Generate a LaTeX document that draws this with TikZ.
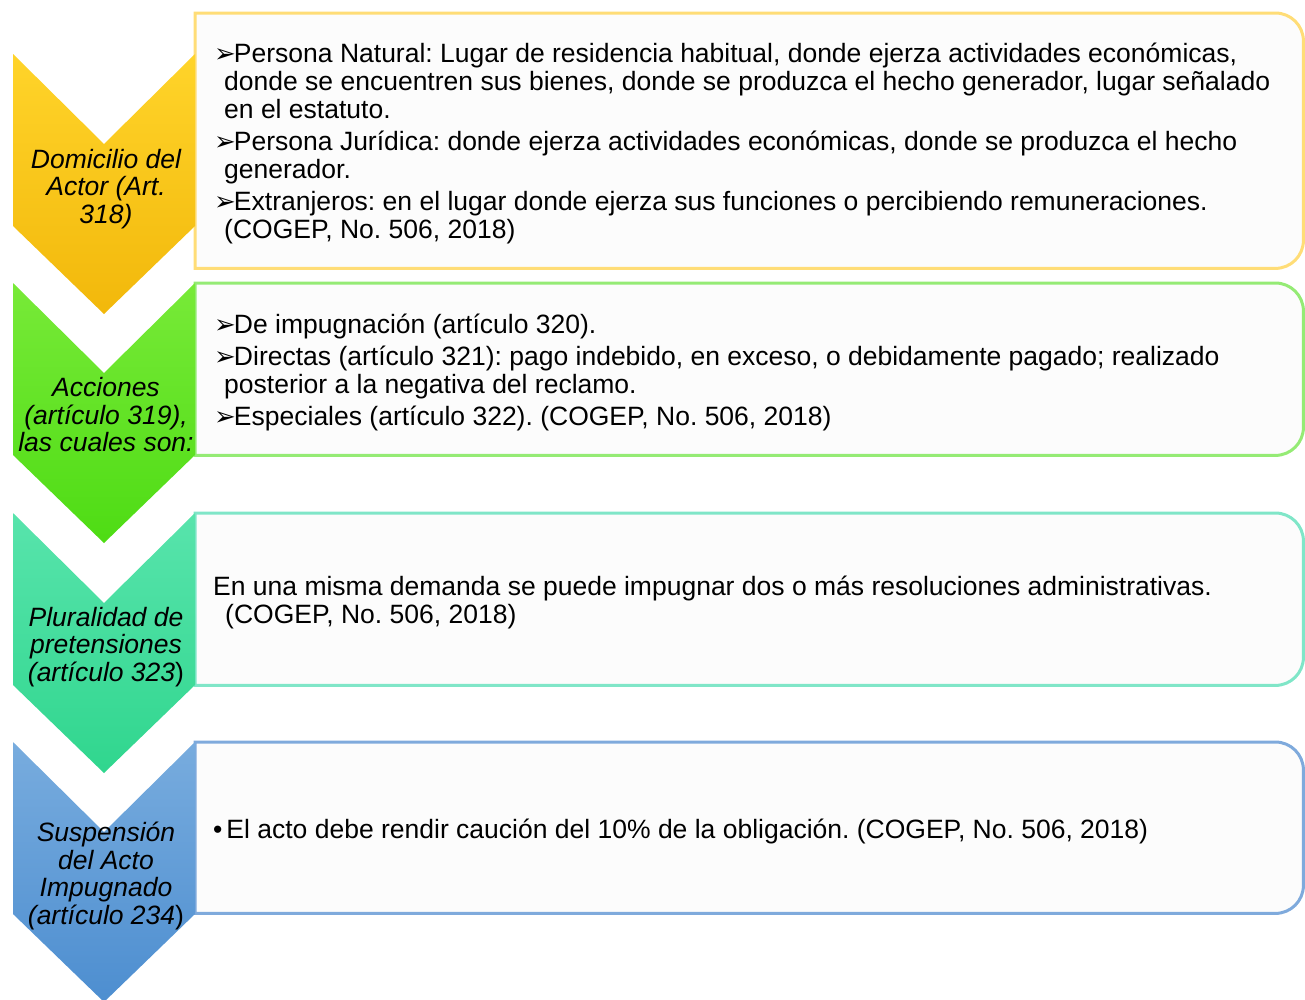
\documentclass[tikz,border=0pt]{standalone}
\usepackage{fontspec}
\setmainfont{Liberation Sans}
\newfontfamily\dejavu{DejaVu Sans}
\newcommand{\arr}{{\dejavu\fontsize{26}{20}\selectfont ➢}\hspace{-2pt}}
\newcommand{\ind}{\hspace*{10pt}}
\definecolor{ytop}{HTML}{FFD42A}
\definecolor{ybot}{HTML}{F2B80B}
\definecolor{gtop}{HTML}{78EA38}
\definecolor{gbot}{HTML}{4EDC14}
\definecolor{ttop}{HTML}{58E4AC}
\definecolor{tbot}{HTML}{30D68E}
\definecolor{btop}{HTML}{78ACDE}
\definecolor{bbot}{HTML}{4D8ED0}
\definecolor{yline}{HTML}{FFDD77}
\definecolor{gline}{HTML}{95EB75}
\definecolor{tline}{HTML}{80E6C8}
\definecolor{bline}{HTML}{7FAADC}
\definecolor{boxfill}{HTML}{FCFCFC}
\newcommand{\boxborder}[2]{%
  \draw[#2, line width=3pt, fill=boxfill] (#1.south west) -- (#1.north west)
    -- ([xshift=-28pt]#1.north east) arc[start angle=90,end angle=0,radius=28pt]
    -- ([yshift=28pt]#1.south east) arc[start angle=0,end angle=-90,radius=28pt]
    -- cycle;}
\newcommand{\chevron}[3]{%
  \shade[top color=#2, bottom color=#3]
    (13,-#1) -- (104,{-#1-90}) -- (195,-#1) -- (195,{-#1-172})
    -- (104,{-#1-260}) -- (13,{-#1-172}) -- cycle;}
\begin{document}
\frenchspacing
\begin{tikzpicture}[x=1pt,y=1pt,
  boxnode/.style={inner sep=0pt, anchor=north west, minimum width=1108pt},
  lbl/.style={font=\fontsize{26.5}{27.5}\selectfont\itshape\frenchspacing, align=center, inner sep=0pt},
  body/.style={font=\fontsize{26.5}{28}\selectfont\frenchspacing, align=left, anchor=north west, inner sep=0pt}]
\useasboundingbox (0,0) rectangle (1305,-999);
% boxes
\node[boxnode, minimum height=255pt] (b1) at (195,-13) {};
\node[boxnode, minimum height=172pt] (b2) at (195,-283) {};
\node[boxnode, minimum height=172pt] (b3) at (195,-513) {};
\node[boxnode, minimum height=171pt] (b4) at (195,-742) {};
\boxborder{b1}{yline}
\boxborder{b2}{gline}
\boxborder{b3}{tline}
\boxborder{b4}{bline}
% chevrons
\chevron{54}{ytop}{ybot}
\chevron{283}{gtop}{gbot}
\chevron{513}{ttop}{tbot}
\chevron{742}{btop}{bbot}
% labels
\node[lbl] (l1) at (106,-189) {Domicilio del\\Actor (Art.\\318)};
\node[lbl] (l2) at (106,-415) {Acciones\\(artículo 319),\\las cuales son:};
\node[lbl] (l3) at (106,-647) {Pluralidad de\\pretensiones\\(artículo 323\upshape)};
\node[lbl] (l4) at (106,-876) {Suspensión\\del Acto\\Impugnado\\(artículo 234\upshape)};
% texts
\node[body] (t1) at (214,-43) {\arr Persona Natural: Lugar de residencia habitual, donde ejerza actividades económicas,\\
\ind donde se encuentren sus bienes, donde se produzca el hecho generador, lugar señalado\\
\ind en el estatuto.\\[4pt]
\arr Persona Jurídica: donde ejerza actividades económicas, donde se produzca el hecho\\
\ind generador.\\[4pt]
\arr Extranjeros: en el lugar donde ejerza sus funciones o percibiendo remuneraciones.\\
\ind (COGEP, No. 506, 2018)};
\node[body] (t2) at (214,-314) {\arr De impugnación (artículo 320).\\[4pt]
\arr Directas (artículo 321): pago indebido, en exceso, o debidamente pagado; realizado\\
\ind posterior a la negativa del reclamo.\\[4pt]
\arr Especiales (artículo 322). (COGEP, No. 506, 2018)};
\node[body] (t3) at (213,-576) {En una misma demanda se puede impugnar dos o más resoluciones administrativas.\\
\hspace*{12pt}(COGEP, No. 506, 2018)};
\node[body] (t4) at (213,-819) {•\hspace{4pt}El acto debe rendir caución del 10\% de la obligación. (COGEP, No. 506, 2018)};
\end{tikzpicture}
\end{document}
